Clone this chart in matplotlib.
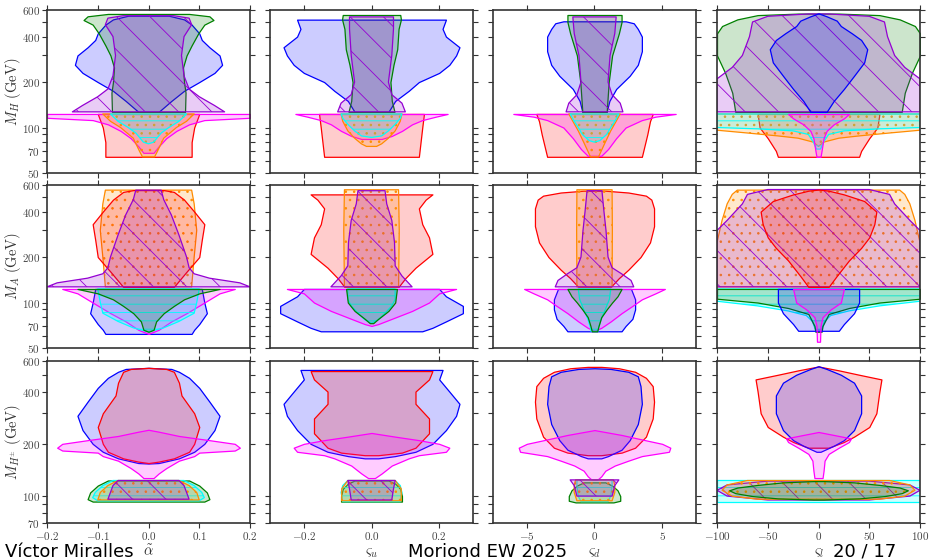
import matplotlib
matplotlib.use("Agg")
import matplotlib.pyplot as plt
import matplotlib.colors as mcolors
import numpy as np

plt.rcParams['mathtext.fontset'] = 'cm'
plt.rcParams['hatch.linewidth'] = 0.6

# ---- allowed regions, (mass, half-width) pairs, symmetric about 0 ----
# row 1: M_H
h_a_blue = [(127, 0.02), (150, 0.045), (175, 0.07), (200, 0.1), (230, 0.13), (260, 0.145), (300, 0.14),
            (340, 0.12), (380, 0.105), (420, 0.1), (480, 0.085), (520, 0.07), (550, 0.04)]
h_a_green = [(127, 0.072), (170, 0.073), (200, 0.07), (250, 0.068), (300, 0.075), (350, 0.085), (420, 0.098),
             (480, 0.11), (515, 0.128), (545, 0.12), (565, 0.08)]
h_a_purple = [(127, 0.15), (140, 0.13), (160, 0.1), (180, 0.08), (220, 0.07), (300, 0.065), (400, 0.07),
              (480, 0.085), (530, 0.08), (550, 0.05)]
h_a_red = [(64, 0.085), (80, 0.085), (100, 0.09), (123, 0.1)]
h_a_magenta = [(68, 0.01), (75, 0.02), (85, 0.035), (95, 0.055), (105, 0.08), (112, 0.11), (116, 0.2), (123, 0.2)]
h_a_orange = [(64, 0.012), (70, 0.018), (85, 0.03), (100, 0.055), (110, 0.075), (123, 0.09)]
h_a_cyan = [(78, 0.0), (80, 0.01), (92, 0.025), (100, 0.04), (110, 0.06), (123, 0.075)]

h_u_blue = [(127, 0.05), (150, 0.07), (175, 0.11), (200, 0.14), (230, 0.2), (260, 0.23), (300, 0.25),
            (340, 0.26), (400, 0.22), (450, 0.21), (518, 0.22)]
h_u_green = [(127, 0.068), (150, 0.06), (200, 0.056), (260, 0.065), (330, 0.076), (450, 0.08), (520, 0.087),
             (556, 0.085)]
h_u_purple = [(127, 0.1), (145, 0.09), (165, 0.06), (200, 0.05), (300, 0.06), (450, 0.065), (540, 0.065)]
h_u_red = [(64, 0.14), (80, 0.145), (100, 0.15), (123, 0.155)]
h_u_magenta = [(84, 0.03), (88, 0.06), (95, 0.09), (105, 0.12), (112, 0.15), (118, 0.19), (123, 0.225)]
h_u_orange = [(75, 0.015), (78, 0.03), (85, 0.05), (95, 0.07), (110, 0.085), (123, 0.09)]
h_u_cyan = [(86, 0.0), (88, 0.03), (95, 0.05), (105, 0.07), (115, 0.085), (123, 0.09)]

h_d_blue = [(127, 0.9), (150, 1.1), (180, 1.6), (220, 2.6), (260, 3.2), (320, 3.5), (400, 3.5), (450, 3.2),
            (490, 2.9), (505, 2.3)]
h_d_green = [(127, 0.9), (200, 1.05), (300, 1.3), (420, 1.8), (500, 2.0), (556, 2.0)]
h_d_purple = [(127, 2.1), (145, 1.9), (165, 1.3), (200, 1.0), (300, 1.15), (420, 1.5), (540, 1.6)]
h_d_red = [(64, 3.5), (90, 3.9), (110, 4.1), (123, 4.3)]
h_d_magenta = [(65, 0.5), (72, 1.0), (85, 1.6), (100, 2.3), (112, 3.5), (118, 4.5), (123, 6.0)]
h_d_orange = [(64, 0.3), (70, 0.5), (80, 0.8), (95, 1.2), (110, 1.6), (123, 1.9)]
h_d_cyan = [(80, 0.0), (82, 0.4), (90, 0.9), (100, 1.2), (110, 1.5), (123, 1.8)]

h_l_green = [(127, 82), (170, 85), (230, 92), (300, 100), (420, 100), (470, 95), (520, 80), (555, 60), (568, 20)]
h_l_purple = [(127, 100), (210, 100), (250, 85), (300, 75), (400, 68), (500, 65), (545, 50), (565, 10)]
h_l_blue = [(127, 8), (150, 15), (180, 25), (220, 35), (270, 45), (330, 48), (380, 42), (420, 33), (470, 22),
            (510, 18), (545, 8), (570, 0)]
h_l_red = [(64, 40), (70, 42), (85, 50), (100, 58), (123, 60)]
h_l_orange = [(75, 0), (80, 5), (85, 20), (88, 40), (92, 70), (96, 100), (123, 100)]
h_l_cyan = [(72, 2), (80, 5), (90, 10), (95, 25), (98, 60), (100, 100), (123, 100)]
h_l_magenta = [(64, 2), (70, 3), (85, 5), (95, 8), (105, 15), (115, 25), (123, 30)]

# row 2: M_A
a_a_orange = [(127, 0.085), (200, 0.09), (300, 0.095), (450, 0.09), (555, 0.085)]
a_a_red = [(127, 0.05), (160, 0.075), (200, 0.1), (260, 0.105), (330, 0.11), (400, 0.09), (480, 0.07),
           (540, 0.05), (555, 0.03)]
a_a_purple = [(127, 0.2), (135, 0.18), (145, 0.12), (155, 0.09), (170, 0.08), (200, 0.075), (280, 0.06),
              (380, 0.045), (480, 0.03), (555, 0.025)]
a_a_blue = [(62, 0.085), (66, 0.09), (72, 0.1), (85, 0.115), (100, 0.11), (123, 0.105)]
a_a_magenta = [(62, 0.0), (66, 0.02), (75, 0.045), (85, 0.075), (100, 0.11), (115, 0.14), (123, 0.17)]
a_a_green = [(64, 0.0), (66, 0.01), (75, 0.015), (85, 0.03), (95, 0.05), (105, 0.07), (115, 0.1), (123, 0.14)]
a_a_cyan = [(64, 0.0), (68, 0.03), (75, 0.06), (85, 0.09), (100, 0.095), (123, 0.1)]

a_u_orange = [(127, 0.08), (300, 0.082), (558, 0.08)]
a_u_red = [(127, 0.08), (145, 0.1), (170, 0.13), (210, 0.18), (270, 0.17), (330, 0.15), (420, 0.14),
           (480, 0.16), (520, 0.18)]
a_u_purple = [(127, 0.12), (150, 0.09), (175, 0.07), (250, 0.068), (350, 0.06), (450, 0.045), (550, 0.04)]
a_u_blue = [(64.5, 0.15), (68, 0.18), (75, 0.22), (85, 0.27), (95, 0.27), (110, 0.22), (123, 0.2)]
a_u_magenta = [(70, 0.0), (72, 0.02), (78, 0.06), (88, 0.12), (100, 0.17), (115, 0.2), (123, 0.25)]
a_u_green = [(73, 0.005), (78, 0.02), (88, 0.05), (100, 0.07), (123, 0.075)]
a_u_cyan = [(73, 0.0), (77, 0.02), (85, 0.04), (95, 0.06), (105, 0.07), (123, 0.07)]

a_d_orange = [(127, 1.3), (300, 1.32), (558, 1.3)]
a_d_red = [(127, 1.2), (145, 1.8), (165, 2.5), (200, 3.4), (250, 4.1), (320, 4.4), (420, 4.4), (480, 4.2),
           (510, 3.8), (535, 2.5), (550, 0.8)]
a_d_purple = [(127, 2.9), (140, 2.7), (155, 2.0), (170, 1.3), (200, 1.0), (300, 0.85), (400, 0.7), (550, 0.55)]
a_d_blue = [(64.5, 2.0), (70, 2.3), (78, 2.8), (90, 3.0), (105, 3.0), (123, 2.7)]
a_d_magenta = [(65, 0.0), (68, 0.5), (75, 1.2), (85, 2.0), (95, 2.8), (105, 3.5), (115, 4.5), (123, 5.2)]
a_d_green = [(64.5, 0.2), (70, 0.3), (80, 0.5), (90, 0.9), (100, 1.3), (110, 1.7), (123, 2.0)]
a_d_cyan = [(64.5, 0.25), (68, 0.3), (78, 0.5), (90, 0.8), (105, 1.1), (123, 1.2)]

a_l_orange = [(127, 100), (250, 100), (350, 95), (450, 90), (520, 85), (555, 80)]
a_l_purple = [(127, 100), (300, 100), (350, 90), (450, 75), (520, 70), (560, 50)]
a_l_red = [(127, 10), (150, 18), (190, 30), (230, 42), (270, 50), (330, 55), (400, 57), (470, 45), (520, 25),
           (550, 10), (560, 0)]
a_l_blue = [(65, 20), (72, 25), (85, 35), (100, 40), (123, 40)]
a_l_magenta = [(55, 1.5), (70, 2), (80, 4), (90, 12), (100, 22), (123, 25)]
a_l_green = [(64, 3), (70, 4), (84, 10), (92, 30), (100, 60), (106, 100), (123, 100)]
a_l_cyan = [(66, 3), (75, 6), (82, 12), (88, 30), (95, 60), (102, 100), (123, 100)]

# row 3: M_H+-
c_a_blue = [(154, 0.0), (155, 0.02), (165, 0.06), (180, 0.09), (200, 0.11), (240, 0.13), (290, 0.14),
            (350, 0.12), (420, 0.1), (480, 0.08), (520, 0.06), (540, 0.045), (548, 0.0)]
c_a_red = [(155, 0.0), (158, 0.02), (165, 0.05), (180, 0.08), (200, 0.09), (250, 0.1), (300, 0.09),
           (380, 0.065), (450, 0.06), (520, 0.05), (540, 0.035), (548, 0.0)]
c_a_magenta = [(127, 0.01), (135, 0.02), (145, 0.035), (160, 0.06), (170, 0.09), (178, 0.1), (183, 0.17),
               (190, 0.18), (200, 0.17), (210, 0.12), (222, 0.06), (235, 0.02), (241, 0.0)]
c_a_green = [(93, 0.11), (96, 0.12), (105, 0.115), (115, 0.1), (123, 0.08)]
c_a_cyan = [(94, 0.1), (98, 0.11), (105, 0.105), (115, 0.09), (123, 0.07)]
c_a_orange = [(95, 0.1), (105, 0.095), (115, 0.08), (123, 0.06)]
c_a_purple = [(96, 0.08), (105, 0.075), (115, 0.07), (123, 0.06)]

c_u_blue = [(165, 0.02), (170, 0.07), (180, 0.13), (200, 0.18), (240, 0.22), (290, 0.25), (340, 0.26),
            (400, 0.23), (470, 0.2), (533, 0.21)]
c_u_red = [(172, 0.02), (178, 0.09), (190, 0.13), (230, 0.17), (280, 0.17), (340, 0.13), (400, 0.13),
           (470, 0.17), (525, 0.18)]
c_u_magenta = [(127, 0.01), (135, 0.03), (150, 0.06), (165, 0.11), (172, 0.14), (180, 0.22), (190, 0.23),
               (200, 0.2), (210, 0.14), (220, 0.07), (231, 0.0)]
c_u_green = [(93, 0.09), (100, 0.09), (110, 0.085), (118, 0.07), (123, 0.05)]
c_u_cyan = [(93, 0.085), (105, 0.09), (115, 0.085), (123, 0.07)]
c_u_orange = [(94, 0.088), (110, 0.088), (123, 0.07)]
c_u_purple = [(95, 0.06), (110, 0.065), (123, 0.07)]

c_d_red = [(172, 0.5), (178, 2.0), (190, 3.0), (220, 3.8), (280, 4.3), (350, 4.4), (430, 4.3), (480, 3.8),
           (520, 3.0), (545, 1.8), (555, 0.5)]
c_d_blue = [(165, 0.5), (170, 1.0), (185, 2.0), (210, 2.6), (260, 3.2), (340, 3.5), (430, 3.4), (490, 3.2),
            (520, 2.5), (540, 1.2), (545, 0.0)]
c_d_magenta = [(124, 0.2), (130, 0.5), (140, 0.8), (150, 1.5), (160, 2.5), (170, 3.5), (180, 5.5),
               (190, 5.6), (200, 5.0), (212, 3.5), (225, 2.0), (240, 0.0)]
c_d_green = [(92, 1.4), (94, 1.9), (100, 1.9), (108, 1.7), (115, 1.3), (120, 0.8)]
c_d_cyan = [(93, 1.0), (100, 1.2), (115, 1.3), (124, 1.3)]
c_d_orange = [(94, 1.3), (105, 1.5), (115, 1.5), (124, 1.4)]
c_d_purple = [(100, 1.3), (115, 1.5), (124, 1.8)]

c_l_red = [(190, 10), (205, 25), (220, 35), (250, 50), (300, 57), (400, 60), (470, 62), (500, 40),
           (530, 20), (558, 0)]
c_l_blue = [(180, 2), (195, 15), (210, 25), (240, 35), (300, 42), (380, 42), (450, 35), (500, 22),
            (540, 8), (560, 0)]
c_l_magenta = [(127, 4), (140, 5), (160, 6), (175, 10), (190, 20), (205, 30), (215, 32), (225, 15), (234, 0)]
c_l_cyan = [(93, 100), (124, 100)]
c_l_orange = [(96, 60), (100, 85), (108, 95), (116, 90), (123, 70)]
c_l_purple = [(95, 50), (100, 90), (108, 100), (116, 90), (122, 50)]
c_l_green = [(95.5, 5), (97, 40), (100, 65), (104, 82), (108, 88), (112, 80), (116, 60), (120, 35), (122, 5)]

# axes ranges / ticks
x_limits = [(-0.2, 0.2), (-0.3, 0.3), (-7.5, 7.5), (-100, 100)]
x_ticks = [[-0.2, -0.1, 0.0, 0.1, 0.2], [-0.2, 0.0, 0.2], [-5, 0, 5], [-100, -50, 0, 50, 100]]
x_ticklabels = [['-0.2', '-0.1', '0.0', '0.1', '0.2'], ['-0.2', '0.0', '0.2'], ['-5', '0', '5'],
                ['-100', '-50', '0', '50', '100']]
x_names = [r'$\tilde{\alpha}$', r'$\varsigma_u$', r'$\varsigma_d$', r'$\varsigma_l$']
y_names = [r'$M_H\ (\mathrm{GeV})$', r'$M_A\ (\mathrm{GeV})$', r'$M_{H^{\pm}}\ (\mathrm{GeV})$']
y_limits = [(50, 600), (50, 600), (70, 600)]
y_ticks = [50, 60, 70, 80, 90, 100, 200, 300, 400, 500, 600]
y_labelled = [50, 70, 100, 200, 400, 600]

COLORS = {'blue': '#0000ff', 'green': '#008000', 'purple': '#9400d3', 'red': '#ff0000',
          'orange': '#ff8c00', 'cyan': '#00ffff', 'magenta': '#ff00ff'}
HATCH = {'purple': '\\', 'orange': '..', 'cyan': '--'}

panels = [
    [[(h_a_blue, 'blue'), (h_a_green, 'green'), (h_a_purple, 'purple'), (h_a_red, 'red'),
      (h_a_magenta, 'magenta'), (h_a_orange, 'orange'), (h_a_cyan, 'cyan')],
     [(h_u_blue, 'blue'), (h_u_green, 'green'), (h_u_purple, 'purple'), (h_u_red, 'red'),
      (h_u_magenta, 'magenta'), (h_u_orange, 'orange'), (h_u_cyan, 'cyan')],
     [(h_d_blue, 'blue'), (h_d_green, 'green'), (h_d_purple, 'purple'), (h_d_red, 'red'),
      (h_d_magenta, 'magenta'), (h_d_orange, 'orange'), (h_d_cyan, 'cyan')],
     [(h_l_green, 'green'), (h_l_purple, 'purple'), (h_l_blue, 'blue'), (h_l_red, 'red'),
      (h_l_orange, 'orange'), (h_l_cyan, 'cyan'), (h_l_magenta, 'magenta')]],
    [[(a_a_orange, 'orange'), (a_a_red, 'red'), (a_a_purple, 'purple'), (a_a_blue, 'blue'),
      (a_a_magenta, 'magenta'), (a_a_cyan, 'cyan'), (a_a_green, 'green')],
     [(a_u_red, 'red'), (a_u_orange, 'orange'), (a_u_purple, 'purple'), (a_u_blue, 'blue'),
      (a_u_magenta, 'magenta'), (a_u_cyan, 'cyan'), (a_u_green, 'green')],
     [(a_d_red, 'red'), (a_d_orange, 'orange'), (a_d_purple, 'purple'), (a_d_blue, 'blue'),
      (a_d_magenta, 'magenta'), (a_d_cyan, 'cyan'), (a_d_green, 'green')],
     [(a_l_orange, 'orange'), (a_l_purple, 'purple'), (a_l_red, 'red'), (a_l_cyan, 'cyan'),
      (a_l_green, 'green'), (a_l_blue, 'blue'), (a_l_magenta, 'magenta')]],
    [[(c_a_blue, 'blue'), (c_a_red, 'red'), (c_a_magenta, 'magenta'), (c_a_green, 'green'),
      (c_a_cyan, 'cyan'), (c_a_orange, 'orange'), (c_a_purple, 'purple')],
     [(c_u_blue, 'blue'), (c_u_red, 'red'), (c_u_magenta, 'magenta'), (c_u_green, 'green'),
      (c_u_cyan, 'cyan'), (c_u_orange, 'orange'), (c_u_purple, 'purple')],
     [(c_d_red, 'red'), (c_d_blue, 'blue'), (c_d_magenta, 'magenta'), (c_d_green, 'green'),
      (c_d_cyan, 'cyan'), (c_d_orange, 'orange'), (c_d_purple, 'purple')],
     [(c_l_red, 'red'), (c_l_blue, 'blue'), (c_l_magenta, 'magenta'), (c_l_cyan, 'cyan'),
      (c_l_purple, 'purple'), (c_l_orange, 'orange'), (c_l_green, 'green')]],
]


def draw_region(ax, pts, name):
    m = [p[0] for p in pts]
    w = np.array([p[1] for p in pts])
    col = COLORS[name]
    ax.fill_betweenx(m, -w, w, facecolor=mcolors.to_rgb(col) + (0.2,), edgecolor=col,
                     hatch=HATCH.get(name), linewidth=0.9)


W, H = 931, 560
fig = plt.figure(figsize=(W / 100, H / 100), dpi=100)

col_left = [47, 270, 493, 717]
row_top = [10, 185, 361]
row_h = [163, 163, 162]
ax_w = 203

for r in range(3):
    for c in range(4):
        ax = fig.add_axes([col_left[c] / W, 1 - (row_top[r] + row_h[r]) / H, ax_w / W, row_h[r] / H])
        for pts, name in panels[r][c]:
            draw_region(ax, pts, name)
        ax.set_yscale('log')
        ax.set_xlim(*x_limits[c])
        ax.set_ylim(*y_limits[r])
        yt = [t for t in y_ticks if t >= y_limits[r][0]]
        ax.set_yticks(yt)
        ax.yaxis.set_minor_locator(matplotlib.ticker.NullLocator())
        ax.set_xticks(x_ticks[c])
        if c == 0:
            ax.set_yticklabels([r'$%d$' % t if t in y_labelled else '' for t in yt])
        else:
            ax.set_yticklabels([])
        if r == 2:
            ax.set_xticklabels([r'$%s$' % s for s in x_ticklabels[c]])
        else:
            ax.set_xticklabels([])
        ax.tick_params(direction='out', length=3.5, width=0.8, top=True, right=True,
                       color='#333333', labelcolor='#444444', labelsize=8, pad=1.5)
        for sp in ax.spines.values():
            sp.set_color('#333333')
            sp.set_linewidth(1.2)

# axis titles
for r in range(3):
    yc = row_top[r] + row_h[r] / 2
    fig.text(13 / W, 1 - yc / H, y_names[r], rotation=90, ha='center', va='center', fontsize=10.5,
             color='#333333')
for c in range(4):
    fig.text((col_left[c] + ax_w / 2) / W, 1 - 552 / H, x_names[c], ha='center', va='center',
             fontsize=10.5, color='#333333')

# slide footer
fig.text(5 / W, 1 - 557 / H, 'Víctor Miralles', fontsize=13, va='baseline')
fig.text(408 / W, 1 - 557 / H, 'Moriond EW 2025', fontsize=13, va='baseline')
fig.text(833 / W, 1 - 557 / H, '20 / 17', fontsize=13, va='baseline')

fig.savefig('out.png', dpi=100)
